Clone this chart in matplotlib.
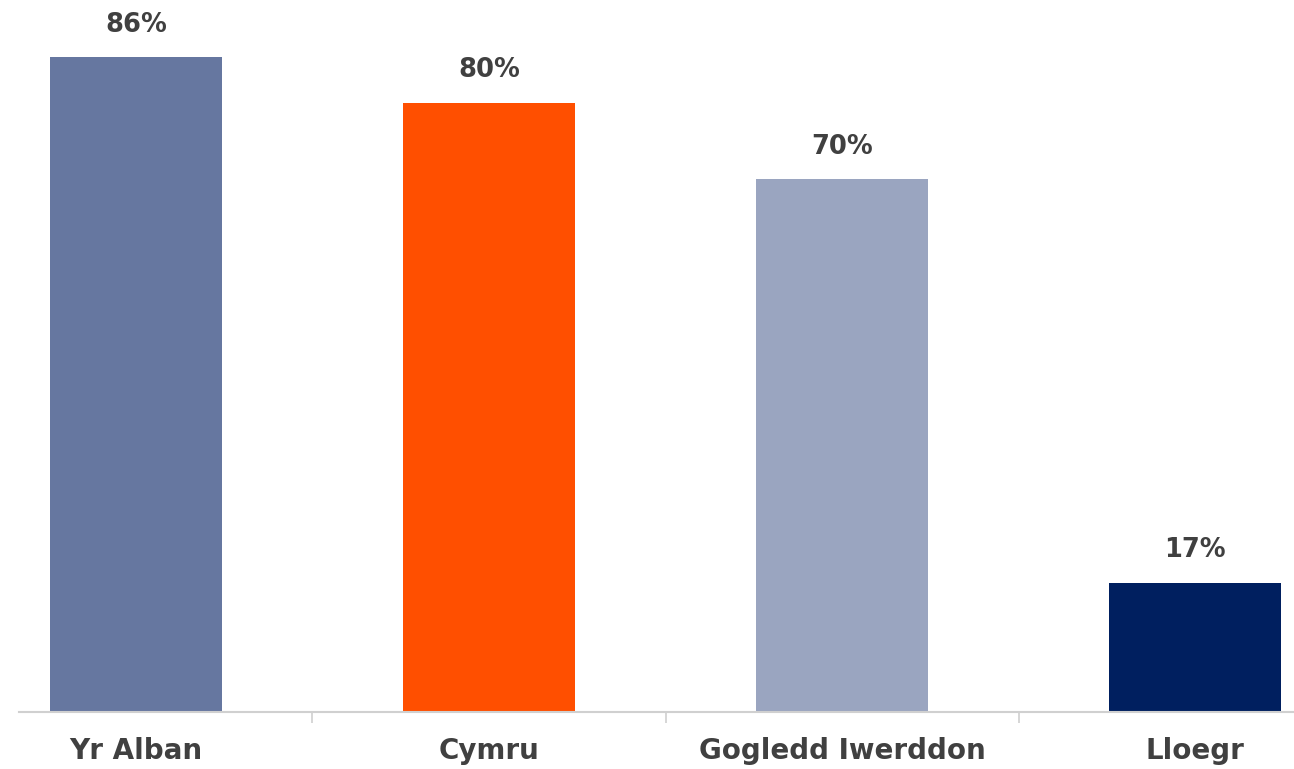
import matplotlib.pyplot as plt

regions = ["Yr Alban", "Cymru", "Gogledd Iwerddon", "Lloegr"]
percent = [86, 80, 70, 17]
colors = ["#6677a0", "#ff4f00", "#9aa5c0", "#001f5f"]

fig = plt.figure(figsize=(12.94, 7.69), dpi=100)
ax = fig.add_axes([19 / 1294, 57 / 769, 1275 / 1294, 712 / 769])

x = list(range(len(regions)))
bars = ax.bar(x, percent, width=0.487, color=colors)

for xi, val in zip(x, percent):
    ax.annotate(f"{val}%", (xi, val), xytext=(0, 14), textcoords="offset points",
                ha="center", va="bottom", fontsize=18.5, fontweight="bold", color="#404040")

ax.set_xlim(-0.331, 3.28)
ax.set_ylim(0, 93.5)

for side in ["top", "right", "left"]:
    ax.spines[side].set_visible(False)
ax.spines["bottom"].set_color("#d0d0d0")
ax.spines["bottom"].set_linewidth(1.5)

ax.set_yticks([])
# small separator ticks between the categories
ax.set_xticks([0.5, 1.5, 2.5])
ax.set_xticklabels([])
ax.tick_params(axis="x", length=8, color="#d0d0d0", width=1.2)
ax.set_xticks(x, minor=True)
ax.set_xticklabels(regions, minor=True)
ax.tick_params(axis="x", which="minor", length=0, pad=18, labelsize=20, labelcolor="#404040")
for lbl in ax.get_xticklabels(minor=True):
    lbl.set_fontweight("bold")

fig.savefig("out.png", dpi=100)
